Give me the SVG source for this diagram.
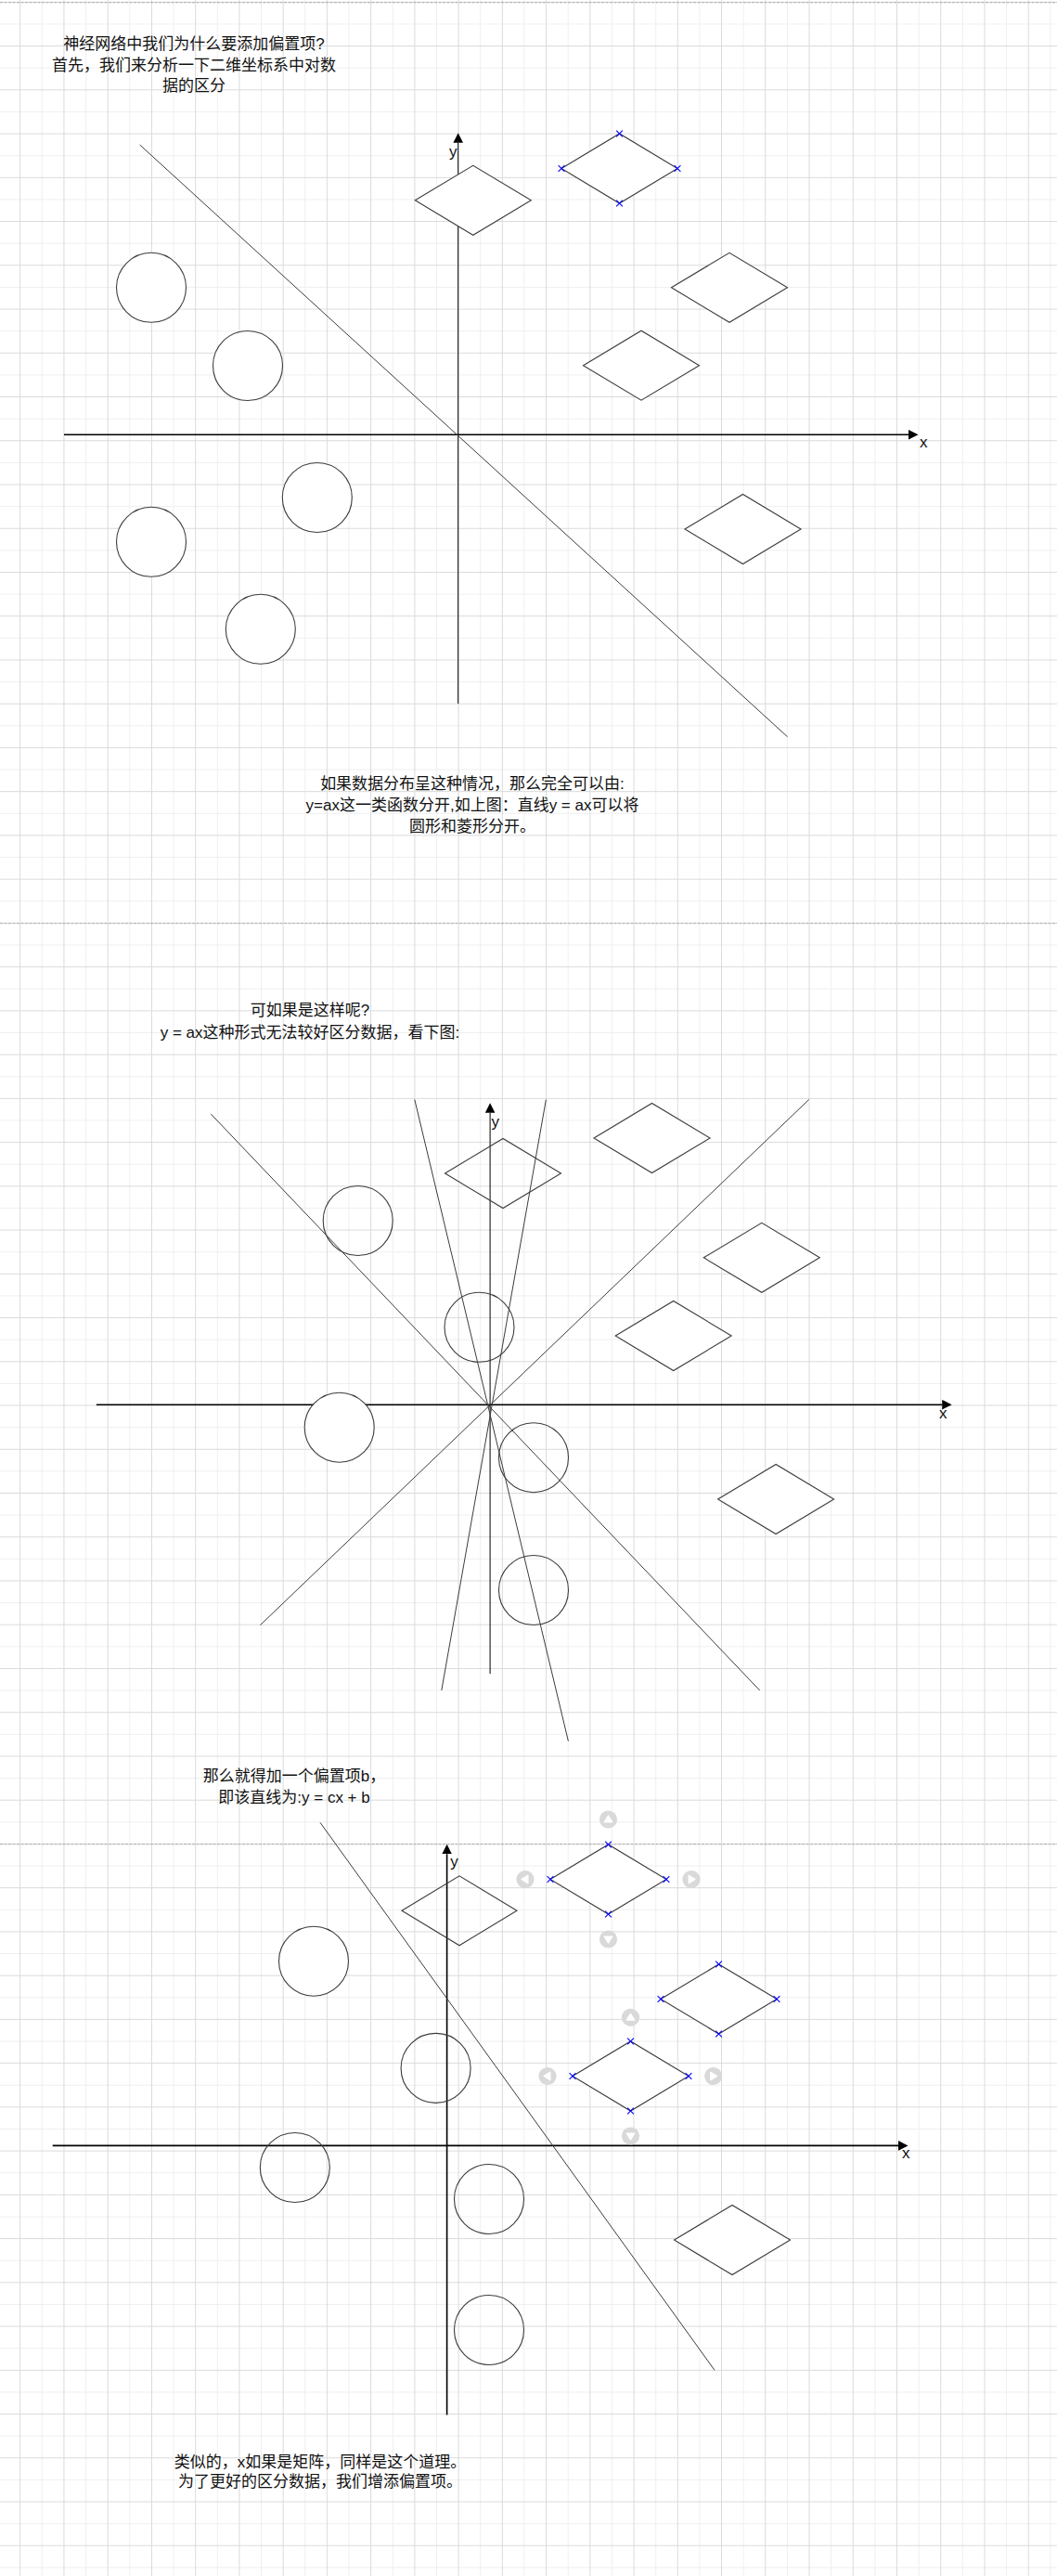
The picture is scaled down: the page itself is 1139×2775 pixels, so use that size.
<svg xmlns="http://www.w3.org/2000/svg" xmlns:xlink="http://www.w3.org/1999/xlink" width="1139" height="2775" viewBox="0 0 1139 2775">
  <style>
    .shape { fill: #ffffff; stroke: #3c3c3c; stroke-width: 1.1; }
    .sep { fill: none; stroke: #3c3c3c; stroke-width: 1; }
    .axis { fill: none; stroke: #000000; stroke-width: 1; }
    .axis-bold { fill: none; stroke: #000000; stroke-width: 1.6; }
    .txt { font-family: "Liberation Sans", "Noto Sans CJK SC", sans-serif; font-size: 17px; fill: #111111; }
    .mid { text-anchor: middle; }
    .pagebreak { stroke: #aaaaaa; stroke-width: 1; stroke-dasharray: 3 1.5; fill: none; }
    .xmark { stroke: #0000ff; stroke-width: 1.1; fill: none; }
  </style>
  <defs>
    <pattern id="grid" patternUnits="userSpaceOnUse" x="21.2" y="1.86" width="47.24" height="47.24">
      <path d="M24.12,0 V47.24 M0,24.12 H47.24" stroke="#efefef" stroke-width="1" fill="none"/>
      <path d="M0.5,0 V47.24 M0,0.5 H47.24" stroke="#dadada" stroke-width="1" fill="none"/>
    </pattern>
    <marker id="arrow" viewBox="0 -6 11 12" refX="0" refY="0" markerWidth="11" markerHeight="12" markerUnits="userSpaceOnUse" orient="auto">
      <path d="M0,-5.3 L10.5,0 L0,5.3 Z" fill="#000000"/>
    </marker>
    <path id="xm" class="xmark" d="M-3.4,-3.4 L3.4,3.4 M-3.4,3.4 L3.4,-3.4"/>
    <g id="hint">
      <circle cx="0" cy="0" r="9.6" fill="#d9d9d9"/>
      <path d="M-4.6,3 L4.6,3 L0,-4.4 Z" fill="#ffffff" stroke="#ffffff" stroke-width="1" stroke-linejoin="round"/>
    </g>
  </defs>

  <rect x="0" y="0" width="1139" height="2775" fill="#ffffff"/>
  <rect x="0" y="0" width="1139" height="2775" fill="url(#grid)"/>
  <g id="page-breaks">
    <line class="pagebreak" x1="0" y1="2.7" x2="1139" y2="2.7"/>
    <line class="pagebreak" x1="0" y1="994.7" x2="1139" y2="994.7"/>
    <line class="pagebreak" x1="0" y1="1986.7" x2="1139" y2="1986.7"/>
  </g>

  <!-- ===== Section 1 ===== -->
  <g id="s1-title">
    <text class="txt mid" x="209" y="53">神经网络中我们为什么要添加偏置项?</text>
    <text class="txt mid" x="209" y="75.6">首先，我们来分析一下二维坐标系中对数</text>
    <text class="txt mid" x="209" y="98.2">据的区分</text>
  </g>
  <g id="s1-axes">
    <line class="axis" x1="493.7" y1="758" x2="493.7" y2="153.8" marker-end="url(#arrow)"/>
    <line class="axis-bold" x1="69" y1="468.3" x2="979" y2="468.3" marker-end="url(#arrow)"/>
    <text class="txt" x="484" y="168.5">y</text>
    <text class="txt" x="991" y="482.3">x</text>
  </g>
  <g id="s1-lines">
    <line class="sep" x1="150.7" y1="156" x2="848.5" y2="793.7"/>
  </g>
  <g id="s1-circle-1"><circle class="shape" cx="163" cy="309.8" r="37.5"/></g>
  <g id="s1-circle-2"><circle class="shape" cx="267" cy="394" r="37.5"/></g>
  <g id="s1-circle-3"><circle class="shape" cx="341.8" cy="536" r="37.5"/></g>
  <g id="s1-circle-4"><circle class="shape" cx="163" cy="583.8" r="37.5"/></g>
  <g id="s1-circle-5"><circle class="shape" cx="280.8" cy="677.8" r="37.5"/></g>
  <g id="s1-diamond-1"><polygon class="shape" points="447.3,215.8 509.8,178.3 572.3,215.8 509.8,253.3"/></g>
  <g id="s1-diamond-2">
    <polygon class="shape" points="605,181.5 667.5,144 730,181.5 667.5,219"/>
    <use xlink:href="#xm" href="#xm" x="605" y="181.5"/>
    <use xlink:href="#xm" href="#xm" x="667.5" y="144"/>
    <use xlink:href="#xm" href="#xm" x="730" y="181.5"/>
    <use xlink:href="#xm" href="#xm" x="667.5" y="219"/>
  </g>
  <g id="s1-diamond-3"><polygon class="shape" points="723.5,309.8 786,272.3 848.5,309.8 786,347.3"/></g>
  <g id="s1-diamond-4"><polygon class="shape" points="628.5,393.7 691,356.2 753.5,393.7 691,431.2"/></g>
  <g id="s1-diamond-5"><polygon class="shape" points="738,570 800.5,532.5 863,570 800.5,607.5"/></g>
  <g id="s1-caption">
    <text class="txt mid" x="509" y="850.4">如果数据分布呈这种情况，那么完全可以由:</text>
    <text class="txt mid" x="509" y="873.2">y=ax这一类函数分开,如上图：直线y = ax可以将</text>
    <text class="txt mid" x="509" y="896">圆形和菱形分开。</text>
  </g>

  <!-- ===== Section 2 ===== -->
  <g id="s2-title">
    <text class="txt mid" x="334" y="1093.8">可如果是这样呢?</text>
    <text class="txt mid" x="334" y="1117.5">y = ax这种形式无法较好区分数据，看下图:</text>
  </g>
  <g id="s2-axes">
    <line class="axis" x1="528.1" y1="1803" x2="528.1" y2="1198.8" marker-end="url(#arrow)"/>
    <line class="axis-bold" x1="103.9" y1="1513.2" x2="1015.2" y2="1513.2" marker-end="url(#arrow)"/>
    <text class="txt" x="529.5" y="1214">y</text>
    <text class="txt" x="1012" y="1528">x</text>
  </g>
  <g id="s2-lines">
    <line class="sep" x1="227.4" y1="1200.2" x2="818.7" y2="1821"/>
    <line class="sep" x1="871.7" y1="1184.5" x2="280.4" y2="1750.7"/>
    <line class="sep" x1="446.8" y1="1184.5" x2="612.4" y2="1875.7"/>
    <line class="sep" x1="588.4" y1="1184.5" x2="475.8" y2="1821"/>
  </g>
  <g id="s2-circle-1"><circle class="shape" cx="385.7" cy="1315" r="37.5" style="fill:none"/></g>
  <g id="s2-circle-2"><circle class="shape" cx="516.5" cy="1429.8" r="37.5" style="fill:none"/></g>
  <g id="s2-circle-3"><circle class="shape" cx="365.7" cy="1537.7" r="37.5"/></g>
  <g id="s2-circle-4"><circle class="shape" cx="575" cy="1570.2" r="37.5" style="fill:none"/></g>
  <g id="s2-circle-5"><circle class="shape" cx="575" cy="1713" r="37.5" style="fill:none"/></g>
  <g id="s2-diamond-1"><polygon class="shape" points="479.5,1264 542,1226.5 604.5,1264 542,1301.5" style="fill:none"/></g>
  <g id="s2-diamond-2"><polygon class="shape" points="640,1226 702.5,1188.5 765,1226 702.5,1263.5"/></g>
  <g id="s2-diamond-3"><polygon class="shape" points="758.3,1354.8 820.8,1317.3 883.3,1354.8 820.8,1392.3"/></g>
  <g id="s2-diamond-4"><polygon class="shape" points="663.2,1439 725.7,1401.5 788.2,1439 725.7,1476.5"/></g>
  <g id="s2-diamond-5"><polygon class="shape" points="773.6,1615 836.1,1577.5 898.6,1615 836.1,1652.5"/></g>

  <!-- ===== Section 3 ===== -->
  <g id="s3-title">
    <text class="txt mid" x="317" y="1919.2">那么就得加一个偏置项b，</text>
    <text class="txt mid" x="317" y="1941.5">即该直线为:y = cx + b</text>
  </g>
  <g id="s3-axes">
    <line class="axis-bold" x1="481.6" y1="2601.5" x2="481.6" y2="1997.2" marker-end="url(#arrow)"/>
    <line class="axis-bold" x1="56.7" y1="2311.4" x2="968" y2="2311.4" marker-end="url(#arrow)"/>
    <text class="txt" x="485.3" y="2011">y</text>
    <text class="txt" x="972" y="2324.7">x</text>
  </g>
  <g id="s3-lines">
    <line class="sep" x1="345" y1="1963.3" x2="770" y2="2553.3"/>
  </g>
  <g id="s3-circle-1"><circle class="shape" cx="338" cy="2112.7" r="37.5"/></g>
  <g id="s3-circle-2"><circle class="shape" cx="469.6" cy="2227.9" r="37.5" style="fill:none"/></g>
  <g id="s3-circle-3"><circle class="shape" cx="317.8" cy="2335" r="37.5" style="fill:none"/></g>
  <g id="s3-circle-4"><circle class="shape" cx="527" cy="2369" r="37.5" style="fill:none"/></g>
  <g id="s3-circle-5"><circle class="shape" cx="527" cy="2510" r="37.5" style="fill:none"/></g>
  <g id="s3-diamond-1"><polygon class="shape" points="433,2058.3 495,2020.8 557,2058.3 495,2095.8" style="fill:none"/></g>
  <g id="s3-diamond-2">
    <polygon class="shape" points="593,2024.5 655.5,1987 718,2024.5 655.5,2062"/>
    <use xlink:href="#xm" href="#xm" x="593" y="2024.5"/>
    <use xlink:href="#xm" href="#xm" x="655.5" y="1987"/>
    <use xlink:href="#xm" href="#xm" x="718" y="2024.5"/>
    <use xlink:href="#xm" href="#xm" x="655.5" y="2062"/>
    <use xlink:href="#hint" href="#hint" transform="translate(655.5,1960)"/>
    <use xlink:href="#hint" href="#hint" transform="translate(655.5,2089) rotate(180)"/>
    <use xlink:href="#hint" href="#hint" transform="translate(566,2024.5) rotate(-90)"/>
    <use xlink:href="#hint" href="#hint" transform="translate(745,2024.5) rotate(90)"/>
  </g>
  <g id="s3-diamond-3">
    <polygon class="shape" points="712,2153.5 774.5,2116 837,2153.5 774.5,2191"/>
    <use xlink:href="#xm" href="#xm" x="712" y="2153.5"/>
    <use xlink:href="#xm" href="#xm" x="774.5" y="2116"/>
    <use xlink:href="#xm" href="#xm" x="837" y="2153.5"/>
    <use xlink:href="#xm" href="#xm" x="774.5" y="2191"/>
  </g>
  <g id="s3-diamond-4">
    <polygon class="shape" points="617,2236.5 679.5,2199 742,2236.5 679.5,2274"/>
    <use xlink:href="#xm" href="#xm" x="617" y="2236.5"/>
    <use xlink:href="#xm" href="#xm" x="679.5" y="2199"/>
    <use xlink:href="#xm" href="#xm" x="742" y="2236.5"/>
    <use xlink:href="#xm" href="#xm" x="679.5" y="2274"/>
    <use xlink:href="#hint" href="#hint" transform="translate(679.5,2173.3)"/>
    <use xlink:href="#hint" href="#hint" transform="translate(679.5,2301) rotate(180)"/>
    <use xlink:href="#hint" href="#hint" transform="translate(590,2236.5) rotate(-90)"/>
    <use xlink:href="#hint" href="#hint" transform="translate(768.7,2236.5) rotate(90)"/>
  </g>
  <g id="s3-diamond-5"><polygon class="shape" points="726.5,2413 789,2375.5 851.5,2413 789,2450.5"/></g>
  <g id="s3-caption">
    <text class="txt mid" x="345" y="2657.5">类似的，x如果是矩阵，同样是这个道理。</text>
    <text class="txt mid" x="345" y="2679.2">为了更好的区分数据，我们增添偏置项。</text>
  </g>
</svg>
